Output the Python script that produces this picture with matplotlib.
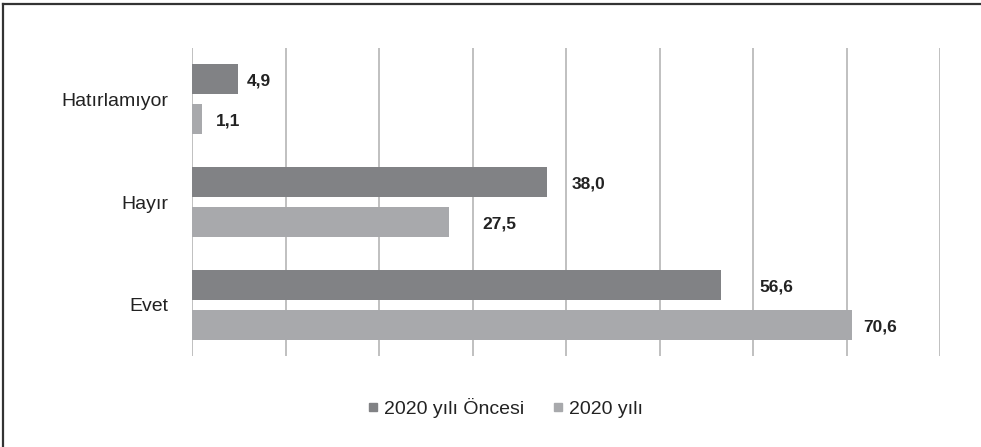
import matplotlib.pyplot as plt
from matplotlib.lines import Line2D
import numpy as np

# survey answers, bottom to top
categories = ["Evet", "Hayır", "Hatırlamıyor"]
before_2020 = [56.6, 38.0, 4.9]
year_2020 = [70.6, 27.5, 1.1]
series_names = ["2020 yılı Öncesi", "2020 yılı"]

dark = "#818285"
light = "#a8a9ac"

plt.rcParams['font.family'] = ['Liberation Sans', 'DejaVu Sans']

fig = plt.figure(figsize=(9.81, 4.47), dpi=100)
ax = fig.add_axes([192 / 981, 1 - 356 / 447, 748 / 981, 308 / 447])

y = np.arange(len(categories))
h = 0.295
off = 0.195

b1 = ax.barh(y + off, before_2020, height=h, color=dark, zorder=3)
b2 = ax.barh(y - off, year_2020, height=h, color=light, zorder=3)

# value labels, nudged right by a few pixels each
pad1 = [38, 24, 9]
pad2 = [11, 33, 14]
for bars, vals, pads in [(b1, before_2020, pad1), (b2, year_2020, pad2)]:
    for bar, v, p in zip(bars, vals, pads):
        ax.annotate(f"{v:.1f}".replace(".", ","),
                    xy=(v, bar.get_y() + bar.get_height() / 2),
                    xytext=(p * 0.72, -1.5), textcoords="offset points",
                    ha="left", va="center", fontsize=12.5, fontweight="bold",
                    color="#222222")

ax.set_xlim(0, 80)
ax.set_ylim(-0.5, 2.5)
ax.set_xticks(np.arange(0, 81, 10))
ax.set_xticklabels([])
ax.set_yticks(y)
ax.set_yticklabels(categories, fontsize=14, color="#222222")
ax.tick_params(axis="both", length=0)
ax.tick_params(axis="y", pad=17)
ax.grid(axis="x", color="#b5b5b5", linewidth=1.2, zorder=0)
for s in ax.spines.values():
    s.set_visible(False)

handles = [Line2D([], [], marker="s", linestyle="none", markersize=6,
                  color=c) for c in (dark, light)]
fig.legend(handles, series_names, loc="center",
           bbox_to_anchor=(504 / 981, 1 - 408 / 447), ncol=2, frameon=False,
           fontsize=14, handletextpad=0.2, columnspacing=1.3,
           handlelength=0.8, labelcolor="#222222")

# outer frame, top and left edges only
fig.add_artist(Line2D([3 / 981, 1], [1 - 4 / 447, 1 - 4 / 447],
                      transform=fig.transFigure, color="#333333", linewidth=1.6))
fig.add_artist(Line2D([3 / 981, 3 / 981], [0, 1 - 4 / 447],
                      transform=fig.transFigure, color="#333333", linewidth=1.6))

fig.savefig("out.png", dpi=100)
